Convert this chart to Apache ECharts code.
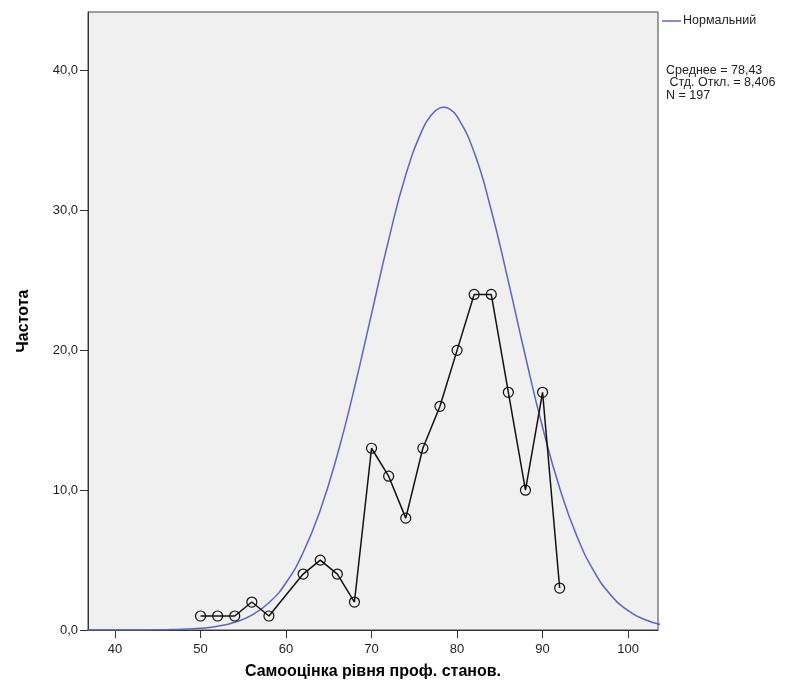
<!DOCTYPE html>
<html><head><meta charset="utf-8">
<script src="https://cdn.jsdelivr.net/npm/echarts@6/dist/echarts.min.js"></script>
<style>html,body{margin:0;padding:0;background:#fff}#c{width:806px;height:696px}</style>
</head><body><div id="c"></div>
<script>
const scoreX = [50,52,54,56,58,62,64,66,68,70,72,74,76,78,80,82,84,86,88,90,92];
const freq   = [1,1,1,2,1,4,5,4,2,13,11,8,13,16,20,24,24,17,10,17,3];
const curveX = [36,38,40,42,44,46,48,50,52,54,56,58,60,62,64,66,68,70,72,74,76,77,78,78.43,79,80,82,84,86,88,90,92,94,96,98,100,102,104];
const curveY = [0.0001,0.0004,0.001,0.003,0.0085,0.022,0.053,0.123,0.267,0.548,1.063,1.949,3.38,5.54,8.57,12.53,17.32,22.61,27.90,32.54,35.86,36.83,37.34,37.39,37.30,36.74,34.17,30.02,24.93,19.56,14.50,10.16,6.73,4.21,2.49,1.39,0.73,0.37];
const xTicks = [40,50,60,70,80,90,100];
const yTicks = [0,10,20,30,40];
const legendName = 'Нормальний';
const statsLines = ['Среднее = 78,43',' Стд. Откл. = 8,406','N = 197'];

const chart = echarts.init(document.getElementById('c'));
const font = 'Liberation Sans, Arial, sans-serif';
chart.setOption({
  animation:false,
  grid:{left:88,top:12,width:570,height:618,show:true,backgroundColor:'#f0f0f0',borderColor:'#444',borderWidth:1},
  xAxis:{type:'value',min:36.84,max:103.5,
    name:'Самооцінка рівня проф. станов.',nameLocation:'middle',nameGap:34,
    nameTextStyle:{fontFamily:font,fontSize:16,fontWeight:'bold',color:'#000'},
    axisLine:{show:true,lineStyle:{color:'#333',width:1}},
    axisTick:{show:true,length:8,customValues:xTicks,lineStyle:{color:'#333'}},
    axisLabel:{customValues:xTicks,fontFamily:font,fontSize:13,color:'#222',margin:13},
    splitLine:{show:false}},
  yAxis:{type:'value',min:0,max:44.2,
    name:'Частота',nameLocation:'middle',nameGap:56,
    nameTextStyle:{fontFamily:font,fontSize:16,fontWeight:'bold',color:'#000'},
    axisLine:{show:true,lineStyle:{color:'#333',width:1}},
    axisTick:{show:true,length:8,customValues:yTicks,lineStyle:{color:'#333'}},
    axisLabel:{customValues:yTicks,fontFamily:font,fontSize:13,color:'#222',margin:10,
      formatter:v=>v.toFixed(1).replace('.',',')},
    splitLine:{show:false}},
  series:[
    {type:'line',name:legendName,data:curveX.map((x,i)=>[x,curveY[i]]),smooth:true,showSymbol:false,
      lineStyle:{color:'#5a66bd',width:1.5},clip:true,z:2},
    {type:'line',data:scoreX.map((x,i)=>[x,freq[i]]),symbol:'circle',symbolSize:10,
      lineStyle:{color:'#111',width:1.5},itemStyle:{color:'rgba(0,0,0,0)',borderColor:'#111',borderWidth:1.2},z:3}
  ],
  graphic:[
    {type:'line',shape:{x1:662,y1:21,x2:681,y2:21},style:{stroke:'#5a66bd',lineWidth:1.5}},
    {type:'text',x:683,y:14,style:{text:legendName,font:'12.5px '+font,fill:'#222'}},
    {type:'text',x:666,y:64,style:{text:statsLines.join('\n'),font:'12.5px '+font,fill:'#222',lineHeight:12.5}}
  ]
});
</script></body></html>
